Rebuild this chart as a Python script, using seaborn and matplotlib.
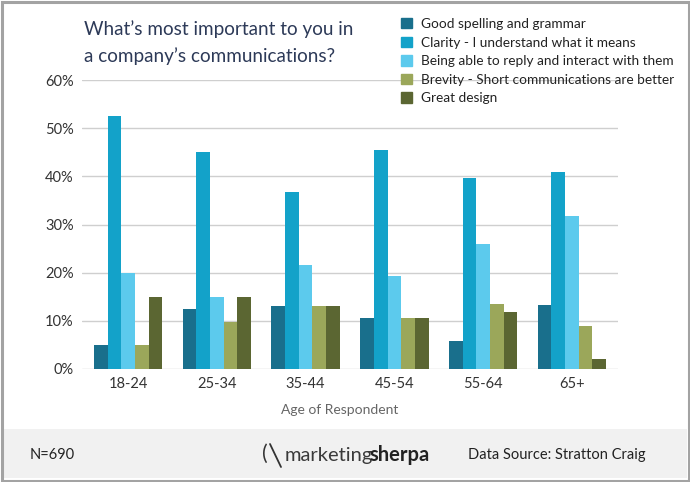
import matplotlib
matplotlib.use("Agg")
from matplotlib import pyplot as plt
from matplotlib.patches import Rectangle
from matplotlib.lines import Line2D
import pandas as pd
import seaborn as sns

ages = ['18-24', '25-34', '35-44', '45-54', '55-64', '65+']
answers = ['Good spelling and grammar',
           'Clarity - I understand what it means',
           'Being able to reply and interact with them',
           'Brevity - Short communications are better',
           'Great design']
spelling = [5, 12.5, 13, 10.6, 5.9, 13.3]
clarity = [52.6, 45, 36.8, 45.5, 39.6, 40.8]
reply = [20, 15, 21.5, 19.3, 25.9, 31.7]
brevity = [5, 9.8, 13, 10.6, 13.5, 8.9]
design = [15, 15, 13, 10.6, 11.9, 2.1]
colors = ['#196f8c', '#13a2c9', '#5ccaed', '#9ba75a', '#5b6632']

rows = []
for name, vals in zip(answers, [spelling, clarity, reply, brevity, design]):
    for a, v in zip(ages, vals):
        rows.append({'Age': a, 'Answer': name, 'Pct': v})
df = pd.DataFrame(rows)

sns.set_style("white")
plt.rcParams['font.family'] = ['Lato', 'DejaVu Sans']

fig = plt.figure(figsize=(6.9, 4.82), dpi=100)
W, H = 690, 482
ax = fig.add_axes([82 / W, 1 - 369 / H, 536 / W, 289 / H])

sns.barplot(data=df, x='Age', y='Pct', hue='Answer', hue_order=answers,
            palette=colors, width=0.77, saturation=1, linewidth=0,
            legend=False, ax=ax, zorder=3)

ax.set_ylim(0, 60)
ax.set_xlim(-0.52, 5.52)
ax.set_yticks(range(0, 61, 10))
ax.set_yticklabels([f'{t}%' for t in range(0, 61, 10)])
ax.yaxis.grid(True, color='#cfcfcf', linewidth=1, zorder=0)
ax.set_axisbelow(True)
for s in ax.spines.values():
    s.set_visible(False)
ax.tick_params(axis='both', length=0, labelsize=10.5, colors='#333333')
ax.tick_params(axis='y', pad=6)
ax.tick_params(axis='x', pad=6)
ax.set_xlabel('')
ax.set_ylabel('')
fig.text(340 / W, 1 - 410 / H, 'Age of Respondent', ha='center', va='center',
         fontsize=10, color='#666666')

# title
fig.text(84 / W, 1 - 29 / H, "What\u2019s most important to you in",
         ha='left', va='center', fontsize=13.6, color='#2d3a58')
fig.text(84 / W, 1 - 56 / H, "a company\u2019s communications?",
         ha='left', va='center', fontsize=13.6, color='#2d3a58')

# legend
handles = [Rectangle((0, 0), 1, 1, color=c) for c in colors]
fig.legend(handles, answers, loc='upper left', bbox_to_anchor=(401 / W, 1 - 18 / H),
           frameon=False, fontsize=9.8, handlelength=0.8, handleheight=0.8,
           handletextpad=0.65, labelspacing=0.48, borderaxespad=0, borderpad=0,
           labelcolor='#222222')

# footer band and frame
fig.add_artist(Rectangle((3 / W, 4 / H), 684 / W, 49 / H, transform=fig.transFigure,
                         facecolor='#f1f1f1', edgecolor='none', zorder=0))
fig.add_artist(Rectangle((1.5 / W, 1.5 / H), 687 / W, 479 / H, transform=fig.transFigure,
                         facecolor='none', edgecolor='#a3a3a3', linewidth=2.2, zorder=5))

fy = 1 - 455 / H
fig.text(30 / W, fy, 'N=690', ha='left', va='center', fontsize=10.5, color='#222222')
fig.text(468 / W, fy, 'Data Source: Stratton Craig', ha='left', va='center',
         fontsize=10.5, color='#222222')
fig.text(262 / W, fy + 1 / H, '(', ha='left', va='center', fontsize=15, color='#333333')
fig.add_artist(Line2D([270 / W, 281 / W], [1 - 444 / H, 1 - 467 / H],
                      transform=fig.transFigure, color='#333333', linewidth=1.3))
t1 = fig.text(285 / W, fy, 'marketing', ha='left', va='center', fontsize=14.5,
              color='#3a3a3a')
fig.canvas.draw()
bb = t1.get_window_extent()
fig.text((bb.x1 - 4) / W, fy, 'sherpa', ha='left', va='center', fontsize=14.5,
         color='#222222', fontweight='bold')

fig.savefig('out.png', dpi=100, facecolor='white')
